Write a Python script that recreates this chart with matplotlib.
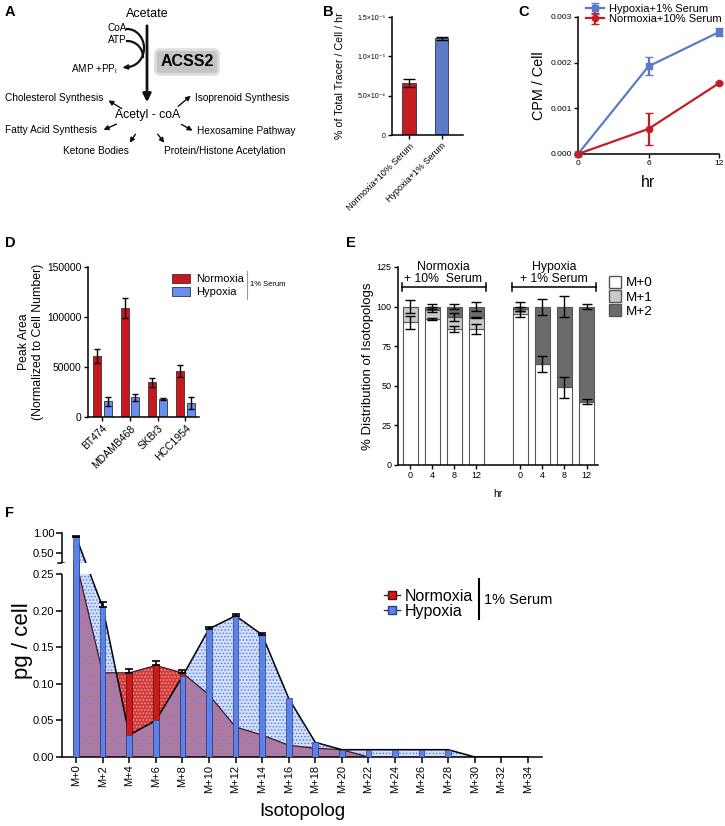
import numpy as np
import matplotlib
matplotlib.use('Agg')
import matplotlib.pyplot as plt
import matplotlib.transforms as mtransforms
from matplotlib.lines import Line2D
from matplotlib.patches import Patch

plt.rcParams['font.family'] = ['Liberation Sans', 'DejaVu Sans']
plt.rcParams['mathtext.fontset'] = 'custom'
plt.rcParams['mathtext.rm'] = 'Liberation Sans'
plt.rcParams['axes.linewidth'] = 1.1
plt.rcParams['hatch.linewidth'] = 0.7

# ---- data ----
# B: tracer uptake
b_groups = ['Normoxia+10% Serum', 'Hypoxia+1% Serum']
b_vals = [6.6e-6, 1.23e-5]
b_err = [0.5e-6, 0.02e-5]

# C: CPM / cell time course
c_hours = [0, 6, 12]
c_hyp = [0.0, 0.00192, 0.00267]
c_hyp_err = [0.00002, 0.0002, 0.00008]
c_norm = [0.0, 0.00055, 0.00155]
c_norm_err = [0.00002, 0.00035, 0.00002]

# D: peak area per cell line
d_lines = ['BT474', 'MDAMB468', 'SKBr3', 'HCC1954']
d_norm = [61000, 109000, 35000, 46000]
d_norm_err = [7000, 10000, 4500, 6000]
d_hyp = [16000, 20000, 18500, 14000]
d_hyp_err = [4500, 3500, 1000, 6000]

# E: isotopolog distribution (normoxia 0,4,8,12 then hypoxia 0,4,8,12)
e_hours = ['0', '4', '8', '12', '0', '4', '8', '12']
e_m0 = [90, 92, 86, 86, 95.5, 63.5, 49, 40]
e_m1 = [10, 6, 7.5, 7, 3, 0, 0, 0]
e_m2 = [0, 2, 6.5, 7, 1.5, 36.5, 51, 60]
e_m0_err = [4, 0.5, 2, 3, 2, 5, 6.7, 1.5]
e_m1_err = [4, 1.5, 2.5, 0.5, 1.5, 0, 0, 0]
e_m2_err = [0, 1.5, 1.5, 3, 3, 5, 6.7, 1.6]

# F: isotopologs pg / cell
f_labels = ['M+%d' % i for i in range(0, 36, 2)]
f_hyp = [0.90, 0.205, 0.03, 0.05, 0.11, 0.175, 0.193, 0.167, 0.08, 0.02,
         0.01, 0.01, 0.01, 0.01, 0.01, 0, 0, 0]
f_hyp_err = [0.02, 0.007, 0, 0, 0, 0.003, 0.003, 0.003, 0, 0,
             0, 0, 0, 0, 0, 0, 0, 0]
f_norm = [0.30, 0.115, 0.115, 0.125, 0.115, 0.085, 0.041, 0.03, 0.016, 0.012,
          0.01, 0, 0, 0, 0, 0, 0, 0]
f_norm_err = [0, 0, 0.005, 0.006, 0.004, 0, 0, 0, 0, 0,
              0, 0, 0, 0, 0, 0, 0, 0]

RED = '#c41e24'
BLUE = '#5b7bc8'
LBLUE = '#6a8ef0'

W, H = 725, 826


def rect(x0, y0, x1, y1):
    return [x0 / W, 1 - y1 / H, (x1 - x0) / W, (y1 - y0) / H]


def style(ax, fs):
    ax.spines['top'].set_visible(False)
    ax.spines['right'].set_visible(False)
    ax.tick_params(direction='out', length=3, width=1, labelsize=fs, pad=1.5)


fig = plt.figure(figsize=(W / 100, H / 100), dpi=100)
for lab, x, y in [('A', 5, 12), ('B', 323, 12), ('C', 518, 12),
                  ('D', 5, 243), ('E', 346, 243), ('F', 5, 513)]:
    fig.text(x / W, 1 - y / H, lab, fontsize=10.5, fontweight='bold', va='center')

# ---- A: pathway diagram ----
ax_a = fig.add_axes(rect(0, 0, 320, 165))
ax_a.set_xlim(0, 320)
ax_a.set_ylim(165, 0)
ax_a.axis('off')
ax_a.text(147, 14, 'Acetate', fontsize=9, ha='center', va='center')
ax_a.annotate('', xy=(147, 105), xytext=(147, 23),
              arrowprops=dict(arrowstyle='-|>', lw=2, color='#111', mutation_scale=12))
ax_a.text(127, 28, 'CoA', fontsize=7.2, ha='right', va='center')
ax_a.text(127, 40, 'ATP', fontsize=7.2, ha='right', va='center')
t = np.linspace(np.pi / 2, -np.pi / 2, 50)
ax_a.plot(127 + 17 * np.cos(t), 48 - 19 * np.sin(t), color='#111', lw=1.6)
t2 = np.linspace(np.pi / 2, 0, 30)
ax_a.plot(127 + 16 * np.cos(t2), 57 - 16 * np.sin(t2), color='#111', lw=1.6)
ax_a.annotate('', xy=(120, 68), xytext=(128, 67),
              arrowprops=dict(arrowstyle='-|>', lw=1.2, color='#111', mutation_scale=7))
ax_a.text(118, 69, r'AMP +PP$_\mathregular{i}$', fontsize=7.2, ha='right', va='center')
ax_a.text(187, 62, 'ACSS2', fontsize=11.5, fontweight='bold', ha='center', va='center',
          bbox=dict(boxstyle='round,pad=0.3', fc='#c4c4c4', ec='#dddddd', lw=2))
ax_a.text(148, 115, 'Acetyl - coA', fontsize=8.8, ha='center', va='center')
for tip, tail in [((106, 99), (124, 110)), ((193, 94), (176, 108)),
                  ((101, 131), (119, 123)), ((195, 132), (179, 123)),
                  ((128, 145), (137, 132)), ((166, 145), (156, 132))]:
    ax_a.annotate('', xy=tip, xytext=tail,
                  arrowprops=dict(arrowstyle='-|>', lw=1, color='#111', mutation_scale=7))
ax_a.text(103, 98, 'Cholesterol Synthesis', fontsize=7.3, ha='right', va='center')
ax_a.text(195, 98, 'Isoprenoid Synthesis', fontsize=7.3, ha='left', va='center')
ax_a.text(97, 130, 'Fatty Acid Synthesis', fontsize=7.3, ha='right', va='center')
ax_a.text(197, 131, 'Hexosamine Pathway', fontsize=7.3, ha='left', va='center')
ax_a.text(96, 151, 'Ketone Bodies', fontsize=7.3, ha='center', va='center')
ax_a.text(164, 151, 'Protein/Histone Acetylation', fontsize=7.3, ha='left', va='center')

# ---- B ----
ax_b = fig.add_axes(rect(392, 17, 463, 135))
style(ax_b, 5)
xb = np.arange(len(b_vals))
ax_b.bar(xb, b_vals, width=0.42, color=[RED, BLUE], edgecolor='#333', linewidth=0.6,
         yerr=b_err, capsize=4, error_kw=dict(lw=1, capthick=1))
ax_b.set_xlim(-0.52, 1.66)
ax_b.set_ylim(0, 1.5e-5)
ax_b.set_yticks([0, 5e-6, 1e-5, 1.5e-5])
ax_b.set_yticklabels(['0', '5.0×10⁻⁶', '1.0×10⁻⁵', '1.5×10⁻⁵'])
ax_b.set_xticks(xb)
ax_b.set_xticklabels(b_groups, rotation=45, ha='right', rotation_mode='anchor', fontsize=6.5)
ax_b.set_ylabel('% of Total Tracer / Cell / hr', fontsize=7.7)
ax_b.yaxis.set_label_coords(-0.66, 0.5)

# ---- C ----
ax_c = fig.add_axes(rect(578, 17, 719, 154))
style(ax_c, 6)
ax_c.errorbar(c_hours, c_hyp, yerr=c_hyp_err, color=BLUE, marker='s', ms=4.5, lw=1.6,
              capsize=3, label='Hypoxia+1% Serum', clip_on=False, zorder=3)
ax_c.errorbar(c_hours, c_norm, yerr=c_norm_err, color=RED, marker='o', ms=4.5, lw=1.6,
              capsize=3, label='Normoxia+10% Serum', clip_on=False, zorder=3)
ax_c.set_xlim(0, 12)
ax_c.set_ylim(0, 0.003)
ax_c.set_xticks(c_hours)
ax_c.set_yticks([0, 0.001, 0.002, 0.003])
ax_c.set_yticklabels(['0.000', '0.001', '0.002', '0.003'])
ax_c.set_xlabel('hr', fontsize=11.3)
ax_c.xaxis.set_label_coords(0.5, -0.15)
ax_c.set_ylabel('CPM / Cell', fontsize=10.4)
ax_c.yaxis.set_label_coords(-0.23, 0.5)
ax_c.legend(loc='upper left', bbox_to_anchor=(0.02, 1.135), fontsize=8.0, frameon=False,
            handlelength=1.6, borderpad=0, labelspacing=0.0, handletextpad=0.4)

# ---- D ----
ax_d = fig.add_axes(rect(88, 267, 199, 417))
style(ax_d, 7.4)
xd = np.arange(len(d_lines))
ax_d.bar(xd - 0.19, d_norm, 0.29, color='#c8181e', edgecolor='#333', linewidth=0.6,
         yerr=d_norm_err, capsize=2.5, error_kw=dict(lw=1), label='Normoxia')
ax_d.bar(xd + 0.19, d_hyp, 0.29, color=LBLUE, edgecolor='#333', linewidth=0.6,
         yerr=d_hyp_err, capsize=2.5, error_kw=dict(lw=1), label='Hypoxia')
ax_d.set_xlim(-0.515, 3.49)
ax_d.set_ylim(0, 150000)
ax_d.set_yticks([0, 50000, 100000, 150000])
ax_d.set_yticklabels(['0', '50000', '100000', '150000'])
ax_d.set_xticks(xd)
ax_d.set_xticklabels(d_lines, rotation=45, ha='right', rotation_mode='anchor', fontsize=7.5)
ax_d.set_ylabel('Peak Area\n(Normalized to Cell Number)', fontsize=8.8)
ax_d.yaxis.set_label_coords(-0.40, 0.5)
ax_d.legend(loc='upper left', bbox_to_anchor=(0.71, 0.99), fontsize=8.0, frameon=False,
            handlelength=1.6, handleheight=0.9, borderpad=0, labelspacing=0.2,
            handletextpad=0.5)
fig.add_artist(Line2D([247 / W, 247 / W], [1 - 271 / H, 1 - 299 / H], color='#999', lw=0.8))
fig.text(250 / W, 1 - 285 / H, '1% Serum', fontsize=5.5, va='center')

# ---- E ----
ax_e = fig.add_axes(rect(398, 267, 598, 465))
style(ax_e, 6.5)
xe = np.array([0, 1, 2, 3, 5, 6, 7, 8])
m0 = np.array(e_m0)
m1 = np.array(e_m1)
m2 = np.array(e_m2)
ax_e.bar(xe, m0, 0.68, color='white', edgecolor='#555', linewidth=0.8)
ax_e.bar(xe, m1, 0.68, bottom=m0, color='#c9c9c9', edgecolor='#555', linewidth=0.8)
ax_e.bar(xe, m2, 0.68, bottom=m0 + m1, color='#6b6b6b', edgecolor='#555', linewidth=0.8)
ek = dict(fmt='none', ecolor='black', elinewidth=1, capsize=3.5, capthick=1)
ax_e.errorbar(xe, m0, yerr=e_m0_err, **ek)
sel1 = m1 > 0
ax_e.errorbar(xe[sel1], (m0 + m1)[sel1], yerr=np.array(e_m1_err)[sel1], **ek)
sel2 = m2 > 0
ax_e.errorbar(xe[sel2], (m0 + m1 + m2)[sel2], yerr=np.array(e_m2_err)[sel2], **ek)
ax_e.set_xlim(-0.544, 8.52)
ax_e.set_ylim(0, 125)
ax_e.set_yticks([0, 25, 50, 75, 100, 125])
ax_e.set_xticks(xe)
ax_e.set_xticklabels(e_hours)
ax_e.set_xlabel('hr', fontsize=7.5)
ax_e.xaxis.set_label_coords(0.5, -0.12)
ax_e.set_ylabel('% Distribution of Isotopologs', fontsize=9.5)
ax_e.yaxis.set_label_coords(-0.12, 0.5)
for g0, g1, txt in [(xe[0], xe[3], 'Normoxia\n+ 10%  Serum'), (xe[4], xe[7], 'Hypoxia\n+ 1% Serum')]:
    ax_e.plot([g0 - 0.38, g1 + 0.43], [112.4, 112.4], color='black', lw=1.1, clip_on=False)
    for gx in (g0 - 0.38, g1 + 0.43):
        ax_e.plot([gx, gx], [110, 114.8], color='black', lw=1.1, clip_on=False)
    ax_e.text((g0 + g1) / 2 + 0.02, 113.6, txt, fontsize=8.8, ha='center', va='bottom',
              linespacing=1.0)
ax_e.legend(handles=[Patch(fc='white', ec='#555', label='M+0'),
                     Patch(fc='#c9c9c9', ec='#555', label='M+1'),
                     Patch(fc='#6b6b6b', ec='#555', label='M+2')],
            loc='upper left', bbox_to_anchor=(1.02, 0.99), fontsize=9.7, frameon=False,
            handlelength=0.9, handleheight=1.0, labelspacing=0.05, handletextpad=0.4,
            borderpad=0)

# ---- F: broken y axis through a piecewise function scale ----
def f_fwd(v):
    v = np.asarray(v, dtype=float)
    return np.where(v <= 0.25, v * 732,
                    np.where(v <= 0.26, 183 + (v - 0.25) * 1100, 194 + (v - 0.26) * 40.54))


def f_inv(p):
    p = np.asarray(p, dtype=float)
    return np.where(p <= 183, p / 732,
                    np.where(p <= 194, 0.25 + (p - 183) / 1100, 0.26 + (p - 194) / 40.54))


ax_f = fig.add_axes(rect(62, 533, 542, 757))
ax_f.spines['top'].set_visible(False)
ax_f.spines['right'].set_visible(False)
ax_f.spines['left'].set_visible(False)
ax_f.tick_params(direction='out', length=4, width=1.1, labelsize=8, pad=1.5)
ax_f.set_yscale('function', functions=(f_fwd, f_inv))
xf = np.arange(len(f_labels))
ax_f.fill_between(xf, 0, f_norm, facecolor='#d43a3a', edgecolor='#f29a9a', hatch='.....',
                  linewidth=0, zorder=1)
ax_f.fill_between(xf, 0, f_hyp, facecolor=(0.62, 0.74, 1.0, 0.45), edgecolor='#5a7ee0',
                  hatch='.....', linewidth=0, zorder=2)
ax_f.plot(xf, f_norm, color='#3a1a2a', lw=0.9, zorder=3)
ax_f.plot(xf, f_hyp, color='black', lw=1.1, zorder=3)
ax_f.axhspan(0.25, 0.26, color='white', zorder=4, lw=0)
ax_f.bar(xf, f_norm, 0.21, color='#cc1a1a', edgecolor='#551111', linewidth=0.5, zorder=5)
ax_f.bar(xf, f_hyp, 0.21, color='#5b82e6', edgecolor='#2b3f8a', linewidth=0.5, zorder=6)
zero = np.zeros(len(xf))
nm = np.array(f_norm_err) > 0
ax_f.errorbar(xf[nm], np.array(f_norm)[nm], yerr=[zero[nm], np.array(f_norm_err)[nm]],
              fmt='none', ecolor='black', elinewidth=1.2, capsize=3, capthick=1.2, zorder=7)
hm = np.array(f_hyp_err) > 0
ax_f.errorbar(xf[hm], np.array(f_hyp)[hm], yerr=[zero[hm], np.array(f_hyp_err)[hm]],
              fmt='none', ecolor='black', elinewidth=1.2, capsize=3, capthick=1.2, zorder=7)
ax_f.set_xlim(-0.53, 17.53)
ax_f.set_ylim(0, 1.0)
trans = mtransforms.blended_transform_factory(ax_f.transAxes, ax_f.transData)
ax_f.plot([0, 0], [0, 0.25], transform=trans, color='black', lw=1.1, clip_on=False)
ax_f.plot([0, 0], [0.26, 1.0], transform=trans, color='black', lw=1.1, clip_on=False)
ax_f.plot([-0.008, 0.004], [0.26, 0.26], transform=trans, color='black', lw=1.1, clip_on=False)
ax_f.set_yticks([0, 0.05, 0.10, 0.15, 0.20, 0.25, 0.50, 1.00])
ax_f.set_yticklabels(['0.00', '0.05', '0.10', '0.15', '0.20', '0.25', '0.50', '1.00'])
ax_f.set_xticks(xf)
ax_f.set_xticklabels(f_labels, rotation=90)
ax_f.set_ylabel('pg / cell', fontsize=16)
ax_f.yaxis.set_label_coords(-0.06, 0.52)
ax_f.set_xlabel('Isotopolog', fontsize=13.6)
ax_f.xaxis.set_label_coords(0.5, -0.205)

h_norm = Line2D([], [], color='#333', lw=1, marker='s', ms=6, mfc='#cc1a1a', mec='#551111')
h_hyp = Line2D([], [], color='#333', lw=1, marker='s', ms=6, mfc='#5b82e6', mec='#2b3f8a')
fig.legend([h_norm, h_hyp], ['Normoxia', 'Hypoxia'], loc='upper left',
           bbox_to_anchor=(376 / W, 1 - 581 / H), fontsize=11.5, frameon=False,
           handlelength=1.0, handletextpad=0.3, labelspacing=0.0, borderpad=0)
fig.add_artist(Line2D([479 / W, 479 / W], [1 - 579 / H, 1 - 619 / H], color='black', lw=1.5))
fig.text(484 / W, 1 - 600 / H, '1% Serum', fontsize=10.5, va='center')

fig.savefig('out.png', dpi=100)
